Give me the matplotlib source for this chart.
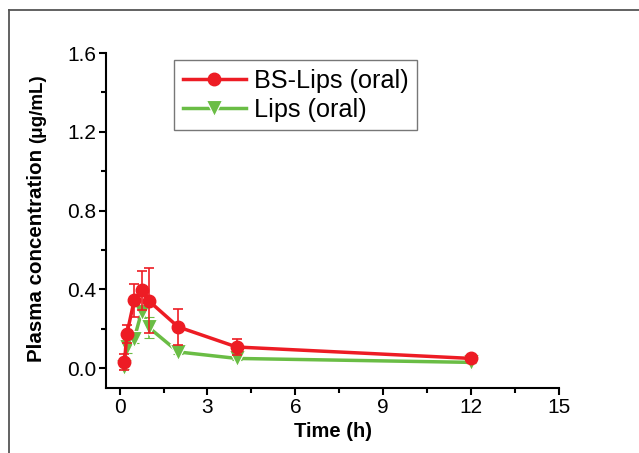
import matplotlib.pyplot as plt
from matplotlib.lines import Line2D
from matplotlib.ticker import MultipleLocator

plt.rcParams['font.family'] = ['Liberation Sans', 'DejaVu Sans']

# === Data ===
time_h = [0.167, 0.25, 0.5, 0.75, 1.0, 2.0, 4.0, 12.0]
bs_lips = [0.03, 0.175, 0.345, 0.395, 0.342, 0.21, 0.108, 0.05]
bs_lips_err = [0.04, 0.045, 0.085, 0.10, 0.165, 0.09, 0.04, 0.01]
lips = [0.005, 0.108, 0.15, 0.285, 0.207, 0.083, 0.05, 0.03]
lips_err = [0.01, 0.03, 0.02, 0.03, 0.055, 0.01, 0.01, 0.005]

red = '#ED1C24'
green = '#6ABD45'

fig = plt.figure(figsize=(6.39, 4.53), dpi=100)
ax = fig.add_axes([0.166, 0.1435, 0.709, 0.7395])

ax.errorbar(time_h, bs_lips, yerr=bs_lips_err, color=red, lw=2.5,
            marker='o', ms=9, elinewidth=1.2, capsize=3.5, capthick=1.2,
            label='BS-Lips (oral)', zorder=3)
ax.errorbar(time_h, lips, yerr=lips_err, color=green, lw=2.5,
            marker='v', ms=12, mec='white', mew=0.8, elinewidth=1.2,
            capsize=3.5, capthick=1.2, label='Lips (oral)', zorder=2)

ax.set_xlim(-0.46, 15)
ax.set_ylim(-0.10, 1.6)
ax.xaxis.set_major_locator(MultipleLocator(3))
ax.xaxis.set_minor_locator(MultipleLocator(1.5))
ax.yaxis.set_major_locator(MultipleLocator(0.4))
ax.yaxis.set_minor_locator(MultipleLocator(0.2))
ax.yaxis.set_major_formatter(plt.FormatStrFormatter('%.1f'))

for s in ['top', 'right']:
    ax.spines[s].set_visible(False)
for s in ['left', 'bottom']:
    ax.spines[s].set_linewidth(1.5)
ax.tick_params(which='major', direction='out', length=5, width=1.5,
               labelsize=15, pad=2)
ax.tick_params(which='minor', direction='out', length=3.5, width=1.5)

ax.set_xlabel('Time (h)', fontsize=14.5, fontweight='bold', labelpad=4)

# y label in two parts: bold name, smaller unit
ylab = fig.text(37 / 639, 1 - 362 / 453, 'Plasma concentration',
                rotation=90, fontsize=14.8, fontweight='bold',
                ha='center', va='bottom')
fig.canvas.draw()
bb = ylab.get_window_extent().transformed(fig.transFigure.inverted())
fig.text(38 / 639, bb.y1 + 6 / 453, '(\u03bcg/mL)',
         rotation=90, fontsize=13.5, fontweight='bold', ha='center', va='bottom')

handles = [
    Line2D([], [], color=red, lw=2.5, marker='o', ms=9),
    Line2D([], [], color=green, lw=2.5, marker='v', ms=11, mec='white', mew=0.8),
]
leg = ax.legend(handles, ['BS-Lips (oral)', 'Lips (oral)'], loc='upper left',
                bbox_to_anchor=(0.15, 0.98), fontsize=18.2, frameon=True,
                fancybox=False, edgecolor='#555555', handlelength=2.5,
                handletextpad=0.3, labelspacing=0.2, borderpad=0.35,
                borderaxespad=0)
leg.get_frame().set_linewidth(1.0)

# outer frame of the original figure
fig.add_artist(Line2D([9 / 639, 1], [1 - 10 / 453, 1 - 10 / 453],
                      color='#555555', lw=1.3))
fig.add_artist(Line2D([9 / 639, 9 / 639], [0, 1 - 10 / 453],
                      color='#555555', lw=1.3))

fig.savefig('out.png', dpi=100)
